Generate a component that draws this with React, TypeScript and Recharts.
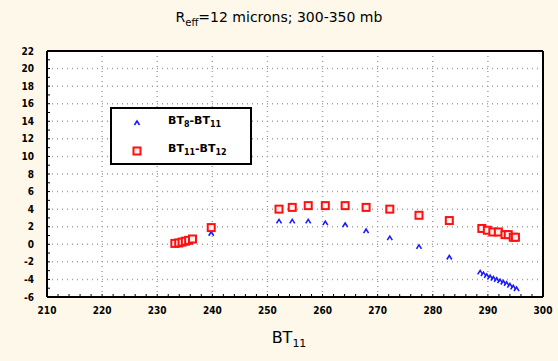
import {
  ScatterChart,
  Scatter,
  XAxis,
  YAxis,
  CartesianGrid,
} from "recharts";

// --- data ---
const X_LABELS = [210, 220, 230, 240, 250, 260, 270, 280, 290, 300];
const Y_LABELS = [-6, -4, -2, 0, 2, 4, 6, 8, 10, 12, 14, 16, 18, 20, 22];
const X_TICKS = [210, 212, 214, 216, 218, 220, 222, 224, 226, 228, 230, 232, 234, 236, 238, 240, 242, 244, 246, 248, 250, 252, 254, 256, 258, 260, 262, 264, 266, 268, 270, 272, 274, 276, 278, 280, 282, 284, 286, 288, 290, 292, 294, 296, 298, 300];
const Y_TICKS = [-6, -5, -4, -3, -2, -1, 0, 1, 2, 3, 4, 5, 6, 7, 8, 9, 10, 11, 12, 13, 14, 15, 16, 17, 18, 19, 20, 21, 22];

// BT8 - BT11 (blue triangles)
const bt8BT11 = [233.6, 234.3, 235.0, 235.7, 236.5, 239.8, 252.1, 254.5, 257.4, 260.5, 264.1, 267.9, 272.2, 277.5, 283.0, 288.6, 289.2, 289.8, 290.4, 291.0, 291.6, 292.2, 292.8, 293.4, 294.0, 294.6, 295.2];
const bt8Diff = [-0.1, 0.0, 0.15, 0.3, 0.45, 1.2, 2.6, 2.6, 2.6, 2.4, 2.2, 1.5, 0.7, -0.3, -1.5, -3.2, -3.4, -3.6, -3.75, -3.9, -4.05, -4.2, -4.35, -4.5, -4.7, -4.9, -5.1];

// BT11 - BT12 (red squares)
const bt12BT11 = [233.2, 233.9, 234.5, 235.1, 235.7, 236.4, 239.8, 252.1, 254.5, 257.4, 260.5, 264.1, 267.9, 272.2, 277.5, 283.0, 288.9, 289.9, 290.9, 291.9, 293.1, 293.7, 294.6, 295.0];
const bt12Diff = [0.1, 0.15, 0.25, 0.35, 0.45, 0.6, 1.9, 4.0, 4.2, 4.4, 4.4, 4.4, 4.2, 4.0, 3.3, 2.7, 1.8, 1.6, 1.4, 1.4, 1.1, 1.1, 0.8, 0.8];

const blueData = bt8BT11.map((x, i) => ({ x, y: bt8Diff[i] }));
const redData = bt12BT11.map((x, i) => ({ x, y: bt12Diff[i] }));

const BG = "#fdf8ea";
const TICK_FONT = { fontSize: 10, fontWeight: 700, fill: "#000", fontFamily: "'DejaVu Sans Condensed', 'DejaVu Sans', sans-serif" };
const blank = () => "";
const xLabel = (v: number) => (X_LABELS.includes(v) ? String(v) : "");
const yLabel = (v: number) => (Y_LABELS.includes(v) ? String(v) : "");

const Triangle = (props: any) => {
  const { cx, cy } = props;
  return <path d={`M${cx - 2.5},${cy + 2} L${cx},${cy - 2} L${cx + 2.5},${cy + 2}`} fill="none" stroke="#1a1aff" strokeWidth={1.6} />;
};

const Square = (props: any) => {
  const { cx, cy } = props;
  return <rect x={cx - 3.5} y={cy - 3.5} width={7} height={7} fill="#fff0f0" stroke="#ff1010" strokeWidth={2} />;
};

const LegendBox = () => (
  <div
    style={{
      position: "absolute",
      left: 110,
      top: 107,
      width: 138,
      height: 54,
      border: "2px solid #000",
      background: "#fff",
      fontFamily: "'DejaVu Sans', sans-serif",
      fontSize: 11,
      fontWeight: 700,
    }}
  >
    <svg width={20} height={50} style={{ position: "absolute", left: 17, top: 2 }}>
      <Triangle cx={8} cy={12} />
      <Square cx={8} cy={40} />
    </svg>
    <div style={{ position: "absolute", left: 56, top: 5 }}>
      BT<sub style={{ fontSize: 8 }}>8</sub>-BT<sub style={{ fontSize: 8 }}>11</sub>
    </div>
    <div style={{ position: "absolute", left: 56, top: 33 }}>
      BT<sub style={{ fontSize: 8 }}>11</sub>-BT<sub style={{ fontSize: 8 }}>12</sub>
    </div>
  </div>
);

export default function App() {
  return (
    <div style={{ position: "relative", width: 558, height: 361, background: BG, fontFamily: "'DejaVu Sans', sans-serif" }}>
      <style>{"body{margin:0}"}</style>
      <ScatterChart width={558} height={361} margin={{ top: 0, right: 0, bottom: 0, left: 0 }}>
        <CartesianGrid
          xAxisId="x"
          yAxisId="y"
          fill="#fff"
          fillOpacity={1}
          stroke="#a0a0a0"
          strokeDasharray="1 4"
          strokeWidth={1.5}
          verticalValues={X_LABELS}
          horizontalValues={Y_LABELS}
        />
        <XAxis
          xAxisId="x"
          type="number"
          dataKey="x"
          domain={[210, 300]}
          ticks={X_TICKS}
          interval={0}
          height={64}
          tickSize={-3}
          tickMargin={13}
          axisLine={{ stroke: "#000", strokeWidth: 2 }}
          tickLine={{ stroke: "#000" }}
          tick={TICK_FONT}
          tickFormatter={xLabel}
        />
        <XAxis
          xAxisId="xt"
          orientation="top"
          type="number"
          domain={[210, 300]}
          ticks={X_LABELS}
          height={51}
          axisLine={{ stroke: "#000", strokeWidth: 2 }}
          tickLine={false}
          tickFormatter={blank}
        />
        <YAxis
          yAxisId="y"
          type="number"
          dataKey="y"
          domain={[-6, 22]}
          ticks={Y_TICKS}
          interval={0}
          width={47}
          tickSize={-3}
          tickMargin={16}
          axisLine={{ stroke: "#000", strokeWidth: 2 }}
          tickLine={{ stroke: "#000" }}
          tick={TICK_FONT}
          tickFormatter={yLabel}
        />
        <YAxis
          yAxisId="yr"
          orientation="right"
          type="number"
          domain={[-6, 22]}
          ticks={Y_TICKS}
          interval={0}
          width={15}
          tickSize={-3}
          axisLine={{ stroke: "#000", strokeWidth: 2 }}
          tickLine={{ stroke: "#000" }}
          tickFormatter={blank}
        />
        <Scatter name="BT8-BT11" data={blueData} xAxisId="x" yAxisId="y" shape={<Triangle />} isAnimationActive={false} />
        <Scatter name="BT11-BT12" data={redData} xAxisId="x" yAxisId="y" shape={<Square />} isAnimationActive={false} />
      </ScatterChart>
      <div style={{ position: "absolute", top: 9, left: 0, width: 558, textAlign: "center", fontSize: 14 }}>
        R<sub style={{ fontSize: 10 }}>eff</sub>=12 microns; 300-350 mb
      </div>
      <div style={{ position: "absolute", top: 328, left: 0, width: 578, textAlign: "center", fontSize: 16 }}>
        BT<sub style={{ fontSize: 11 }}>11</sub>
      </div>
      <LegendBox />
    </div>
  );
}
